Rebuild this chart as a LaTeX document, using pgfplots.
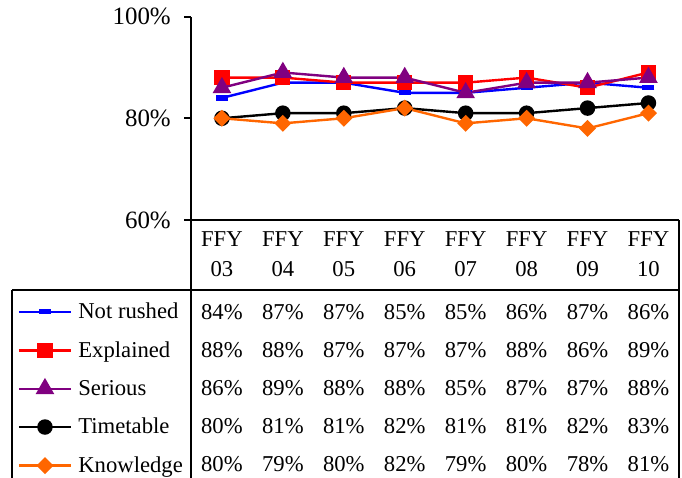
\documentclass[border=0pt]{standalone}
\usepackage{fontspec}
\setmainfont{Liberation Serif}
\usepackage{pgfplots}
\usepackage{pgfplotstable}
\pgfplotsset{compat=1.18}

\definecolor{cblue}{RGB}{0,0,255}
\definecolor{cred}{RGB}{255,0,0}
\definecolor{cpurple}{RGB}{128,0,128}
\definecolor{corange}{RGB}{255,102,0}

\newcommand\tablefont{\fontsize{17}{22.5}\selectfont}
\newcommand\tickfont{\fontsize{18.7}{22}\selectfont}

\pgfplotstableread{
x nr ex se ti kn
0 84 88 86 80 80
1 87 88 89 81 79
2 87 87 88 81 80
3 85 87 88 82 82
4 85 87 85 81 79
5 86 88 87 81 80
6 87 86 87 82 78
7 86 89 88 83 81
}\data

\begin{document}
\begin{tikzpicture}
\useasboundingbox (0,0) rectangle (511.5pt,358.5pt);
\begin{axis}[
  at={(143.6pt,193.5pt)}, anchor=south west,
  scale only axis, width=365.6pt, height=152.6pt,
  xmin=-0.5, xmax=7.5, ymin=60, ymax=100,
  axis x line=bottom, axis y line=left,
  axis line style={-, line width=1.5pt, black},
  /pgf/number format/assume math mode=true,
  ytick={60,80,100}, yticklabels={60\%,80\%,100\%},
  tick align=outside, major tick length=5.25pt,
  ytick style={line width=1.5pt, black},
  yticklabel style={font=\tickfont, xshift=-6.75pt},
  xtick={0,...,7},
  xticklabels={{FFY\\03},{FFY\\04},{FFY\\05},{FFY\\06},{FFY\\07},{FFY\\08},{FFY\\09},{FFY\\10}},
  xtick style={draw=none},
  xticklabel style={align=center, font=\tablefont},
  clip=false,
  legend cell align=left,
  legend style={at={(axis description cs:-0.3655,-0.393)}, anchor=north west,
    draw=none, fill=none, font=\tablefont, row sep=15.7pt, column sep=4.5pt,
    nodes={inner sep=0pt}},
  legend image code/.code={\draw[mark repeat=2,mark phase=2] plot coordinates {(0pt,0pt) (19.65pt,0pt) (39.3pt,0pt)};},
  every node near coord/.append style={font=\tablefont, inner sep=0pt, black},
]
\addplot[forget plot, draw=none, nodes near coords={\pgfmathprintnumber{\pgfplotspointmeta}\%}, nodes near coords align={center}, point meta=explicit] table[x=x, y expr=41.92, meta=nr]{\data};
\addplot[forget plot, draw=none, nodes near coords={\pgfmathprintnumber{\pgfplotspointmeta}\%}, nodes near coords align={center}, point meta=explicit] table[x=x, y expr=34.45, meta=ex]{\data};
\addplot[forget plot, draw=none, nodes near coords={\pgfmathprintnumber{\pgfplotspointmeta}\%}, nodes near coords align={center}, point meta=explicit] table[x=x, y expr=26.98, meta=se]{\data};
\addplot[forget plot, draw=none, nodes near coords={\pgfmathprintnumber{\pgfplotspointmeta}\%}, nodes near coords align={center}, point meta=explicit] table[x=x, y expr=19.51, meta=ti]{\data};
\addplot[forget plot, draw=none, nodes near coords={\pgfmathprintnumber{\pgfplotspointmeta}\%}, nodes near coords align={center}, point meta=explicit] table[x=x, y expr=12.04, meta=kn]{\data};

\addplot[cblue, line width=1.8pt, mark=-, mark size=4.5pt, mark options={solid, line width=4pt}] table[x=x,y=nr]{\data};
\addlegendentry{Not rushed}
\addplot[cred, line width=1.8pt, mark=square*, mark size=4.8pt, mark options={solid}] table[x=x,y=ex]{\data};
\addlegendentry{Explained}
\addplot[cpurple, line width=1.8pt, mark=triangle*, mark size=6.3pt, mark options={solid}] table[x=x,y=se]{\data};
\addlegendentry{Serious}
\addplot[black, line width=1.8pt, mark=*, mark size=4.9pt, mark options={solid}] table[x=x,y=ti]{\data};
\addlegendentry{Timetable}
\addplot[corange, line width=1.8pt, mark=square*, mark size=3.6pt, mark options={solid, rotate=45}] table[x=x,y=kn]{\data};
\addlegendentry{Knowledge}
\end{axis}
\draw[line width=1.5pt] (143.6pt,193.5pt) -- (143.6pt,0pt);
\draw[line width=1.5pt] (509.25pt,193.5pt) -- (509.25pt,0pt);
\draw[line width=1.5pt] (9.2pt,141pt) -- (509.25pt,141pt);
\draw[line width=1.5pt] (9.2pt,141pt) -- (9.2pt,0pt);
\end{tikzpicture}
\end{document}
